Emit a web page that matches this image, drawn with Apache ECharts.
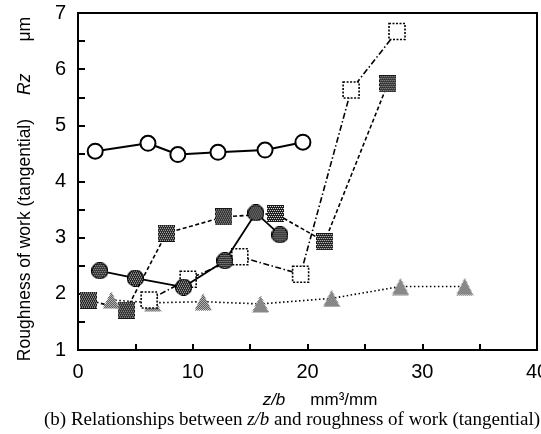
<!DOCTYPE html>
<html>
<head>
<meta charset="utf-8">
<style>html,body{margin:0;padding:0;background:#fff}#c{width:541px;height:434px}</style>
<script src="https://cdn.jsdelivr.net/npm/echarts@6/dist/echarts.min.js"></script>
</head>
<body>
<div id="c"></div>
<script>
// Data (x = z/b mm3/mm, y = Rz um)
const openCircleX = [1.5, 6.1, 8.7, 12.2, 16.3, 19.6];
const openCircleY = [4.54, 4.68, 4.48, 4.52, 4.56, 4.70];
const filledCircleX = [1.9, 5.0, 9.2, 12.8, 15.5, 17.6];
const filledCircleY = [2.41, 2.28, 2.12, 2.59, 3.44, 3.05];
const darkSquareX = [0.9, 4.2, 7.7, 12.7, 17.2, 21.5, 27.0];
const darkSquareY = [1.89, 1.71, 3.08, 3.37, 3.43, 2.93, 5.74];
const openSquareX = [6.2, 9.6, 14.1, 19.4, 23.8, 27.8];
const openSquareY = [1.89, 2.26, 2.66, 2.35, 5.63, 6.67];
const triangleX = [2.9, 6.5, 10.9, 15.9, 22.1, 28.1, 33.7];
const triangleY = [1.89, 1.84, 1.86, 1.82, 1.92, 2.13, 2.13];
const xTicks = [0, 10, 20, 30, 40];
const yTicks = [1, 2, 3, 4, 5, 6, 7];

function pts(xs, ys) { return xs.map((x, i) => [x, ys[i]]); }

// Build a stippled marker image (checker-dotted fill like the scanned original)
function marker(shape, size, dark) {
  const c = document.createElement('canvas');
  c.width = size; c.height = size;
  const g = c.getContext('2d');
  g.beginPath();
  if (shape === 'rect') {
    g.rect(0, 0, size, size);
  } else if (shape === 'circle') {
    g.arc(size / 2, size / 2, size / 2 - 0.5, 0, Math.PI * 2);
  } else {
    g.moveTo(size / 2, 0.5); g.lineTo(size - 0.5, size - 0.5); g.lineTo(0.5, size - 0.5); g.closePath();
  }
  g.save();
  g.clip();
  if (dark) {
    g.fillStyle = '#151515'; g.fillRect(0, 0, size, size);
    g.fillStyle = '#fff';
    for (let y = 1; y < size; y += 2) for (let x = (y % 4 === 1 ? 1 : 0); x < size; x += 2) g.fillRect(x, y, 1, 1);
  } else {
    g.fillStyle = '#fff'; g.fillRect(0, 0, size, size);
    g.fillStyle = '#111';
    for (let y = 0; y < size; y++) for (let x = (y % 2); x < size; x += 2) g.fillRect(x, y, 1, 1);
  }
  g.restore();
  if (shape === 'circle') {
    g.strokeStyle = '#000'; g.lineWidth = 1.2; g.stroke();
  }
  return 'image://' + c.toDataURL();
}
const darkSquareSym = marker('rect', 17, true);
const darkCircleSym = marker('circle', 17, true);
const lightTriSym = marker('triangle', 18, false);

const chart = echarts.init(document.getElementById('c'), null, { renderer: 'canvas' });
const numFont = '"Liberation Sans", Arial, sans-serif';

chart.setOption({
  animation: false,
  backgroundColor: '#fff',
  grid: { left: 78, right: 4, top: 13, bottom: 84, show: true, borderColor: '#000', borderWidth: 2, containLabel: false, outerBoundsMode: 'none' },
  xAxis: {
    type: 'value', min: xTicks[0], max: xTicks[xTicks.length - 1], interval: 10,
    axisLine: { show: true, lineStyle: { color: '#000', width: 2 } },
    axisTick: { show: true, inside: true, length: 6, lineStyle: { color: '#000', width: 2 } },
    minorTick: { show: true, splitNumber: 2, length: 6, lineStyle: { color: '#000', width: 2 } },
    splitLine: { show: false },
    axisLabel: { color: '#000', fontSize: 20, fontFamily: numFont, margin: 12,
      formatter: v => xTicks.includes(v) ? String(v) : '' }
  },
  yAxis: {
    type: 'value', min: yTicks[0], max: yTicks[yTicks.length - 1], interval: 1,
    axisLine: { show: true, lineStyle: { color: '#000', width: 2 } },
    axisTick: { show: true, inside: true, length: 7, lineStyle: { color: '#000', width: 2 } },
    minorTick: { show: true, splitNumber: 2, length: 7, lineStyle: { color: '#000', width: 2 } },
    splitLine: { show: false },
    axisLabel: { color: '#000', fontSize: 20, fontFamily: numFont, margin: 12,
      formatter: v => yTicks.includes(v) ? String(v) : '' }
  },
  series: [
    { type: 'line', data: pts(darkSquareX, darkSquareY), symbol: darkSquareSym, symbolSize: 17,
      lineStyle: { color: '#000', width: 1.6, type: [4, 2.5] },
      itemStyle: { color: '#000' }, z: 2 },
    { type: 'line', data: pts(triangleX, triangleY), symbol: lightTriSym, symbolSize: 18,
      lineStyle: { color: '#000', width: 1.6, type: [1.5, 2.5] },
      itemStyle: { color: '#000' }, z: 2 },
    { type: 'line', data: pts(openSquareX, openSquareY), symbol: 'rect', symbolSize: 16,
      lineStyle: { color: '#000', width: 1.6, type: [6, 2.5, 1.5, 2.5] },
      itemStyle: { color: '#fff', borderColor: '#000', borderWidth: 1.6, borderType: [2, 1.5] }, z: 3 },
    { type: 'line', data: pts(filledCircleX, filledCircleY), symbol: darkCircleSym, symbolSize: 17,
      lineStyle: { color: '#000', width: 1.8 },
      itemStyle: { color: '#000' }, z: 4 },
    { type: 'line', data: pts(openCircleX, openCircleY), symbol: 'circle', symbolSize: 15,
      lineStyle: { color: '#000', width: 2 },
      itemStyle: { color: '#fff', borderColor: '#000', borderWidth: 2 }, z: 4 }
  ],
  graphic: [
    { type: 'text', x: 25, y: 189, rotation: Math.PI / 2,
      style: { text: 'Roughness of work (tangential){i|Rz}{u|μm}', fill: '#000',
        font: '17.5px "Liberation Sans", Arial, sans-serif',
        align: 'center', verticalAlign: 'middle', textAlign: 'center', textVerticalAlign: 'middle',
        rich: {
          i: { fontStyle: 'italic', fontSize: 17.5, fontFamily: '"Liberation Sans", Arial, sans-serif', padding: [0, 0, 0, 24] },
          u: { fontSize: 17.5, fontFamily: '"Liberation Sans", Arial, sans-serif', padding: [0, 0, 0, 32] }
        } } },
    { type: 'text', x: 320, y: 400,
      style: { text: '{i|z/b}{n|mm³/mm}', fill: '#000',
        align: 'center', verticalAlign: 'middle', textAlign: 'center', textVerticalAlign: 'middle',
        rich: {
          i: { fontStyle: 'italic', fontSize: 17, fontFamily: '"Liberation Sans", Arial, sans-serif' },
          n: { fontSize: 17, fontFamily: '"Liberation Sans", Arial, sans-serif', padding: [0, 0, 0, 25] }
        } } },
    { type: 'text', x: 292, y: 420,
      style: { text: '{n|(b) Relationships between }{i|z/b}{n| and roughness of work (tangential)}', fill: '#000',
        align: 'center', verticalAlign: 'middle', textAlign: 'center', textVerticalAlign: 'middle',
        rich: {
          n: { fontSize: 19, fontFamily: '"Liberation Serif", "Times New Roman", serif' },
          i: { fontSize: 19, fontStyle: 'italic', fontFamily: '"Liberation Serif", "Times New Roman", serif' }
        } } }
  ]
});
</script>
</body>
</html>
